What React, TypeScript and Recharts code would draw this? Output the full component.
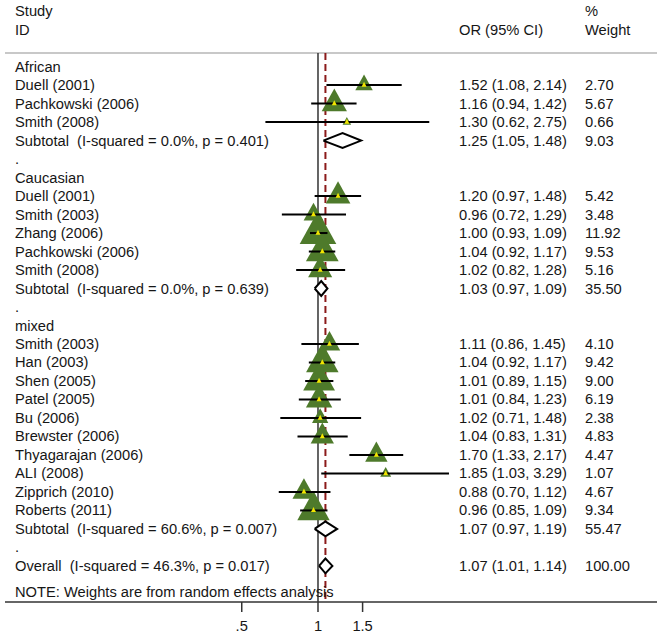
import React from 'react';
import { ScatterChart, Scatter, XAxis, YAxis, ReferenceLine } from 'recharts';

// ---------- data ----------
const rowLabels = [
  'African', 'Duell (2001)', 'Pachkowski (2006)', 'Smith (2008)',
  'Subtotal  (I-squared = 0.0%, p = 0.401)', '.',
  'Caucasian', 'Duell (2001)', 'Smith (2003)', 'Zhang (2006)', 'Pachkowski (2006)', 'Smith (2008)',
  'Subtotal  (I-squared = 0.0%, p = 0.639)', '.',
  'mixed', 'Smith (2003)', 'Han (2003)', 'Shen (2005)', 'Patel (2005)', 'Bu (2006)', 'Brewster (2006)',
  'Thyagarajan (2006)', 'ALI (2008)', 'Zipprich (2010)', 'Roberts (2011)',
  'Subtotal  (I-squared = 60.6%, p = 0.007)', '.',
  'Overall  (I-squared = 46.3%, p = 0.017)',
];
const rowKinds = [
  'group', 'study', 'study', 'study', 'pooled', 'spacer',
  'group', 'study', 'study', 'study', 'study', 'study', 'pooled', 'spacer',
  'group', 'study', 'study', 'study', 'study', 'study', 'study', 'study', 'study', 'study', 'study',
  'pooled', 'spacer', 'pooled',
];
const orEst = [
  null, 1.52, 1.16, 1.30, 1.25, null,
  null, 1.20, 0.96, 1.00, 1.04, 1.02, 1.03, null,
  null, 1.11, 1.04, 1.01, 1.01, 1.02, 1.04, 1.70, 1.85, 0.88, 0.96, 1.07, null,
  1.07,
];
const ciLow = [
  null, 1.08, 0.94, 0.62, 1.05, null,
  null, 0.97, 0.72, 0.93, 0.92, 0.82, 0.97, null,
  null, 0.86, 0.92, 0.89, 0.84, 0.71, 0.83, 1.33, 1.03, 0.70, 0.85, 0.97, null,
  1.01,
];
const ciHigh = [
  null, 2.14, 1.42, 2.75, 1.48, null,
  null, 1.48, 1.29, 1.09, 1.17, 1.28, 1.09, null,
  null, 1.45, 1.17, 1.15, 1.23, 1.48, 1.31, 2.17, 3.29, 1.12, 1.09, 1.19, null,
  1.14,
];
const weights = [
  null, 2.70, 5.67, 0.66, 9.03, null,
  null, 5.42, 3.48, 11.92, 9.53, 5.16, 35.50, null,
  null, 4.10, 9.42, 9.00, 6.19, 2.38, 4.83, 4.47, 1.07, 4.67, 9.34, 55.47, null,
  100.00,
];
const headerTop = ['Study', '', '%'];
const headerBottom = ['ID', 'OR (95% CI)', 'Weight'];
const noteText = 'NOTE: Weights are from random effects analysis';
const xTicks = [0.5, 1, 1.5];
const xTickLabels = ['.5', '1', '1.5'];
const nullValue = 1;
const overallOR = 1.07;

// ---------- layout constants ----------
const W = 661;
const H = 636;
const X_MIN = 0.05811;
const X_MAX = 21.8;
const ROW_TOP = -3.6;
const ROW_BOTTOM = 28.95;
const HEADER_TOP_ROW = -3;
const HEADER_BOTTOM_ROW = -2;
const HEADER_LINE_ROW = -0.73;
const NOTE_ROW = 28.4;
const COL_X = [15, 459, 585];
const FONT = '"Liberation Sans", Arial, sans-serif';
const FONT_SIZE = 14.7;
const TEXT_COLOR = '#161616';
const TRI_FILL = '#4e7a2b';
const DOT_FILL = '#f2e600';

const fmt = (v: number) => v.toFixed(2);

const studyPoints = rowKinds
  .map((k, i) => ({ k, i }))
  .filter((d) => d.k === 'study')
  .map(({ i }) => ({ x: orEst[i] as number, y: i, w: weights[i] as number, lo: ciLow[i] as number, hi: ciHigh[i] as number }));

const pooledRows = rowKinds
  .map((k, i) => ({ k, i }))
  .filter((d) => d.k === 'pooled')
  .map(({ i }) => i);

const DIAMOND_HALF = 0.4;

const tickRows = [HEADER_TOP_ROW, HEADER_BOTTOM_ROW, ...rowLabels.map((_, i) => i), NOTE_ROW];

const txt = (x: number, y: number, s: string, key: string) => (
  <text key={key} x={x} y={y} dominantBaseline="central" fontFamily={FONT} fontSize={FONT_SIZE} fill={TEXT_COLOR} style={{ whiteSpace: 'pre' }}>
    {s}
  </text>
);

const RowTick = (props: any) => {
  const { y, payload } = props;
  const v = payload.value;
  if (v === HEADER_TOP_ROW) {
    return <g>{headerTop.map((s, j) => (s ? txt(COL_X[j], y, s, 'h' + j) : null))}</g>;
  }
  if (v === HEADER_BOTTOM_ROW) {
    return <g>{headerBottom.map((s, j) => txt(COL_X[j], y, s, 'b' + j))}</g>;
  }
  if (v === NOTE_ROW) {
    return <g>{txt(COL_X[0], y, noteText, 'n')}</g>;
  }
  const i = v as number;
  const label = rowLabels[i];
  const or = orEst[i];
  const lo = ciLow[i];
  const hi = ciHigh[i];
  const w = weights[i];
  return (
    <g>
      {txt(COL_X[0], y, label, 'l')}
      {or != null ? txt(COL_X[1], y, `${fmt(or)} (${fmt(lo as number)}, ${fmt(hi as number)})`, 'o') : null}
      {w != null ? txt(COL_X[2], y, fmt(w), 'w') : null}
    </g>
  );
};

const XTick = (props: any) => {
  const { x, y, payload } = props;
  const idx = xTicks.indexOf(payload.value);
  return (
    <text x={x} y={y + 8} textAnchor="middle" dominantBaseline="central" fontFamily={FONT} fontSize={FONT_SIZE} fill={TEXT_COLOR}>
      {idx >= 0 ? xTickLabels[idx] : String(payload.value)}
    </text>
  );
};

const Triangle = (props: any) => {
  const { cx, cy, payload } = props;
  const side = 10.6 * Math.sqrt(payload.w);
  const h = side * 0.9;
  const pts = `${cx - side / 2},${cy + h / 3} ${cx + side / 2},${cy + h / 3} ${cx},${cy - (2 * h) / 3}`;
  return <polygon points={pts} fill={TRI_FILL} stroke="none" />;
};

const YellowDot = (props: any) => {
  const { cx, cy } = props;
  const s = 5;
  const pts = `${cx - s / 2},${cy + s / 3} ${cx + s / 2},${cy + s / 3} ${cx},${cy - (2 * s) / 3}`;
  return <polygon points={pts} fill={DOT_FILL} stroke="none" />;
};

const Empty = () => <g />;

export default function App() {
  return (
    <div style={{ position: 'absolute', left: 0, top: 0, width: W, height: H, background: '#fff' }}>
      <ScatterChart width={W} height={H} margin={{ top: 0, right: 4, bottom: 0, left: 4 }}>
        <XAxis
          type="number"
          dataKey="x"
          scale="log"
          domain={[X_MIN, X_MAX]}
          allowDataOverflow
          ticks={xTicks}
          height={34}
          tickSize={10}
          tickMargin={6}
          axisLine={{ stroke: '#333', strokeWidth: 1.5 }}
          tickLine={{ stroke: '#333', strokeWidth: 1.5 }}
          tick={XTick}
          interval={0}
        />
        <YAxis
          type="number"
          dataKey="y"
          reversed
          domain={[ROW_TOP, ROW_BOTTOM]}
          allowDataOverflow
          ticks={tickRows}
          interval={0}
          width={1}
          axisLine={false}
          tickLine={false}
          tick={RowTick}
        />
        <ReferenceLine y={HEADER_LINE_ROW} stroke="#c8c8c8" strokeWidth={2} />
        <ReferenceLine
          segment={[{ x: nullValue, y: HEADER_LINE_ROW }, { x: nullValue, y: ROW_BOTTOM }]}
          stroke="#333"
          strokeWidth={1.5}
        />
        <ReferenceLine
          segment={[{ x: overallOR, y: HEADER_LINE_ROW }, { x: overallOR, y: ROW_BOTTOM }]}
          stroke="#8b1a1a"
          strokeWidth={2}
          strokeDasharray="7 4"
        />
        <Scatter data={studyPoints} shape={<Triangle />} isAnimationActive={false} />
        {studyPoints.map((p, k) => (
          <Scatter
            key={'ci' + k}
            data={[{ x: p.lo, y: p.y }, { x: p.hi, y: p.y }]}
            line={{ stroke: '#000', strokeWidth: 2 }}
            shape={<Empty />}
            isAnimationActive={false}
          />
        ))}
        <Scatter data={studyPoints} shape={<YellowDot />} isAnimationActive={false} />
        {pooledRows.map((r) => (
          <Scatter
            key={'d' + r}
            data={[
              { x: ciLow[r], y: r },
              { x: orEst[r], y: r - DIAMOND_HALF },
              { x: ciHigh[r], y: r },
              { x: orEst[r], y: r + DIAMOND_HALF },
              { x: ciLow[r], y: r },
            ]}
            line={{ stroke: '#000', strokeWidth: 2, fill: '#fff' }}
            shape={<Empty />}
            isAnimationActive={false}
          />
        ))}
      </ScatterChart>
    </div>
  );
}
